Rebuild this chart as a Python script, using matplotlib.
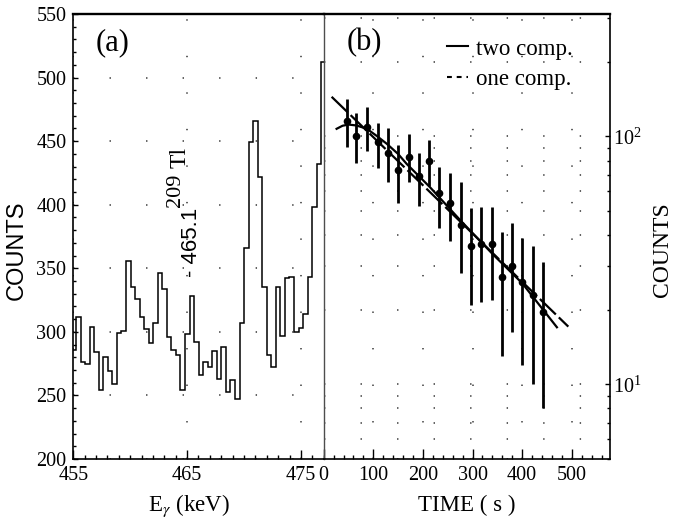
"""
Two-panel figure: (a) gamma spectrum around 465 keV, (b) decay curve.
"""
import numpy as np
import matplotlib
matplotlib.use("Agg")
import matplotlib.pyplot as plt
from matplotlib.lines import Line2D
from matplotlib.ticker import (MultipleLocator, FixedLocator, LogLocator,
                               NullFormatter)

plt.rcParams["font.family"] = ["Liberation Serif", "DejaVu Serif"]
plt.rcParams["mathtext.fontset"] = "stix"
plt.rcParams["lines.scale_dashes"] = False

# ── Data: panel (a) spectrum ──────────────────────────────────────────
E_START = 454.84      # keV, lower edge of first channel
BIN_W = 0.399         # keV per channel
SPEC_COUNTS = [286, 312, 276, 275, 304, 284, 254, 280, 269, 259,
               299, 301, 356, 335, 326, 312, 302, 291, 307, 346,
               334, 296, 286, 282, 254, 298, 328, 292, 266, 276,
               272, 285, 263, 288, 253, 262, 247, 307, 366, 449,
               466, 422, 335, 282, 272, 335, 297, 342, 343, 300,
               303, 314, 343, 398, 432, 512]

# ── Data: panel (b) decay curve ───────────────────────────────────────
TIME = [46, 66, 88, 109, 129, 149, 171, 192, 212, 233,
        255, 276, 297, 318, 339, 359, 380, 400, 421, 442]
COUNTS = [115, 100, 109, 95, 86, 73, 83, 69, 80, 59,
          54, 44, 36, 37, 37, 27, 30, 26, 23, 19.5]
ERR_HI = [142, 124, 131, 113, 108, 92, 102, 86, 97, 75,
          71, 65.5, 51.4, 51.9, 52, 41.2, 44.7, 39.1, 36.1, 31.3]
ERR_LO = [90.6, 77.9, 87.1, 74.4, 65.3, 53.8, 65.3, 52.3, 63, 42.7,
          38, 28.2, 20.9, 21.4, 21.9, 13, 16.3, 12, 10, 8.0]

# fitted curves
FIT2_T = [26, 38, 50, 66, 87, 107, 127, 150, 167, 214, 275, 342, 400, 470]
FIT2_C = [107.4, 110.5, 111.7, 110.8, 107.4, 100.5, 93.5, 85, 77.6, 62.5,
          46, 33.3, 25.6, 17.0]
FIT1_T = [16, 167, 493]
FIT1_C = [144.6, 73.7, 17.1]

W, H = 674, 526
FS_TICK = 14.5
GRID_KW = dict(color="0.2", linewidth=1.1, linestyle=(0, (1.0, 25.3)))

fig = plt.figure(figsize=(W / 100, H / 100), dpi=100)
ax_a = fig.add_axes([73.3 / W, 1 - 459 / H, 250.4 / W, 445 / H])
ax_b = fig.add_axes([323.7 / W, 1 - 459 / H, 286.3 / W, 445 / H])

# ── Panel (a) ─────────────────────────────────────────────────────────
edges = E_START + BIN_W * np.arange(len(SPEC_COUNTS) + 1)
ax_a.stairs(SPEC_COUNTS, edges, baseline=None, color="k", lw=1.1)
ax_a.set_xlim(455, 477)
ax_a.set_ylim(200, 550)
ax_a.xaxis.set_major_locator(FixedLocator([455, 465, 475]))
ax_a.xaxis.set_minor_locator(MultipleLocator(1))
ax_a.yaxis.set_major_locator(MultipleLocator(50))
ax_a.yaxis.set_minor_locator(MultipleLocator(10))
ax_a.tick_params(which="both", direction="in", top=False, right=False,
                 labelsize=FS_TICK, width=1.0)
ax_a.xaxis.set_tick_params(which="major", length=6.5, pad=5)
ax_a.xaxis.set_tick_params(which="minor", length=3)
ax_a.yaxis.set_tick_params(which="major", length=3.8, pad=5)
ax_a.yaxis.set_tick_params(which="minor", length=2.2)
ax_a.grid(which="major", **GRID_KW)
ax_a.spines["right"].set_visible(False)

ax_a.text(0.088, 0.968, "(a)", transform=ax_a.transAxes, fontsize=22,
          ha="left", va="top")
ax_a.text(465.38, 343, "- 465.1", rotation=90, ha="center", va="bottom",
          fontsize=16, family="Liberation Sans")
ax_a.text(463.98, 398, "209", rotation=90, ha="center", va="bottom",
          fontsize=16)
ax_a.text(464.41, 429, "Tl", rotation=90, ha="center", va="bottom",
          fontsize=17)

# axis titles
ax_a.text(-0.225, 0.47, "COUNTS", transform=ax_a.transAxes, rotation=90,
          ha="center", va="center", fontsize=17, family="Liberation Sans")
ax_a.text(0.46, -0.105, r"E$_{\gamma}$ (keV)", transform=ax_a.transAxes,
          ha="center", va="center", fontsize=16.5)

# ── Panel (b) ─────────────────────────────────────────────────────────
ax_b.set_yscale("log")
ax_b.set_xlim(0, 577)
ax_b.set_ylim(5, 312)

cnt = np.array(COUNTS)
yerr = [cnt - np.array(ERR_LO), np.array(ERR_HI) - cnt]
ax_b.errorbar(TIME, COUNTS, yerr=yerr, fmt="o", ms=4.5, color="k",
              elinewidth=2.0, capsize=0, zorder=3)
ax_b.plot(FIT2_T, FIT2_C, color="k", lw=1.6)
ax_b.plot(FIT1_T, FIT1_C, color="k", lw=1.6, dashes=(16, 3))

handles = [Line2D([], [], color="k", lw=1.5),
           Line2D([], [], color="k", lw=1.5, dashes=(3.5, 3.5))]
ax_b.legend(handles, ["two comp.", "one comp."], loc="upper right",
            bbox_to_anchor=(0.87, 0.945), frameon=False, fontsize=16.5,
            handlelength=0.9, handletextpad=0.35, labelspacing=0.4,
            borderpad=0, borderaxespad=0)

ax_b.xaxis.set_major_locator(MultipleLocator(100))
ax_b.xaxis.set_minor_locator(MultipleLocator(20))
ax_b.yaxis.set_major_locator(LogLocator(base=10))
ax_b.yaxis.set_minor_locator(LogLocator(base=10, subs=np.arange(2, 10)))
ax_b.yaxis.set_minor_formatter(NullFormatter())
ax_b.yaxis.tick_right()
ax_b.tick_params(which="both", direction="in", top=False, left=False,
                 right=True, labelsize=FS_TICK, width=1.0)
ax_b.xaxis.set_tick_params(which="major", length=7, pad=5)
ax_b.xaxis.set_tick_params(which="minor", length=3)
ax_b.yaxis.set_tick_params(which="major", length=3.8, pad=2)
ax_b.yaxis.set_tick_params(which="minor", length=2.5)
ax_b.grid(axis="x", which="major", **GRID_KW)
ax_b.grid(axis="y", which="both", **GRID_KW)

ax_b.text(0.080, 0.968, "(b)", transform=ax_b.transAxes, fontsize=22,
          ha="left", va="top")
ax_b.text(1.185, 0.47, "COUNTS", transform=ax_b.transAxes, rotation=90,
          ha="center", va="center", fontsize=17)
ax_b.text(0.50, -0.105, "TIME ( s )", transform=ax_b.transAxes,
          ha="center", va="center", fontsize=16.5)

for ax in (ax_a, ax_b):
    ax.spines["top"].set_linewidth(1.7)
    ax.spines["bottom"].set_linewidth(1.2)
ax_a.spines["left"].set_linewidth(1.2)
ax_b.spines["left"].set_linewidth(1.0)
ax_b.spines["left"].set_color("0.3")
ax_b.spines["right"].set_linewidth(1.2)

fig.savefig("out.png", dpi=100)
